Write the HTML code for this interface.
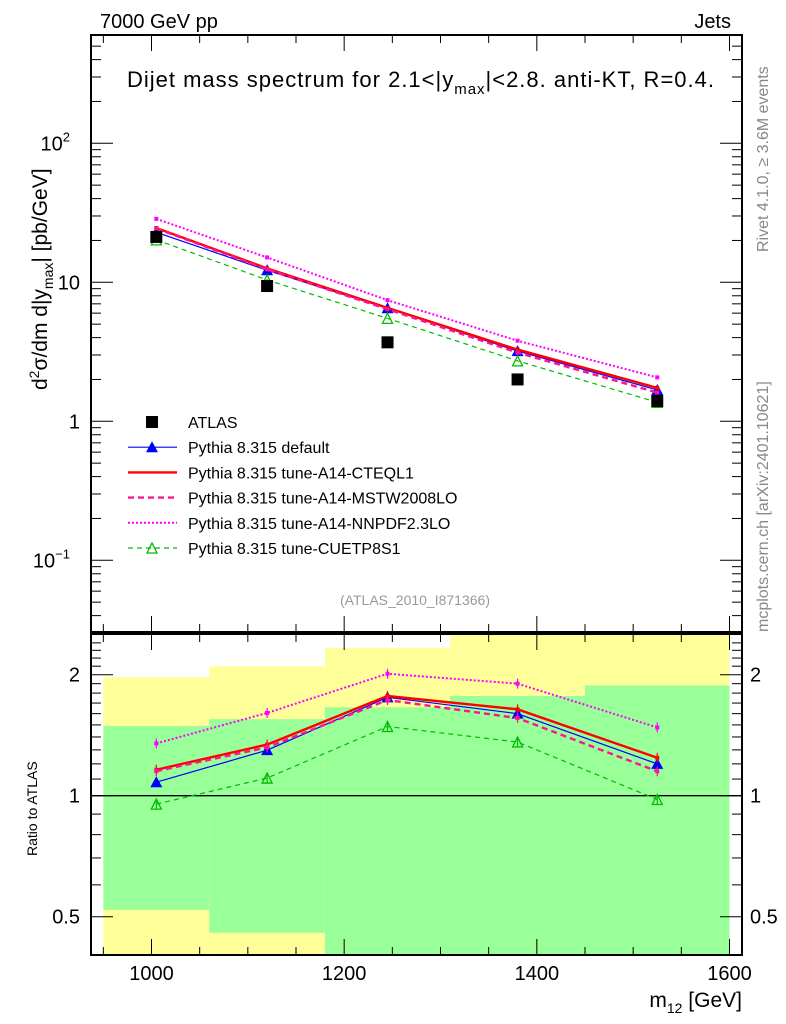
<!DOCTYPE html>
<html><head><meta charset="utf-8"><style>
html,body{margin:0;padding:0;background:#fff}
svg{display:block;font-family:"Liberation Sans",sans-serif}
</style></head><body>
<svg id="chart" width="786" height="1024" viewBox="0 0 786 1024" xmlns="http://www.w3.org/2000/svg">
<g id="bands"></g>
<g id="marks"></g>
<g id="axes"></g>
<text x="100" y="28" font-size="20">7000 GeV pp</text>
<text x="731" y="28" font-size="20" text-anchor="end">Jets</text>
<text x="127" y="87" font-size="22" textLength="587">Dijet mass spectrum for 2.1&lt;|y<tspan font-size="15" dy="7">max</tspan><tspan dy="-7">|&lt;2.8.  anti-KT, R=0.4.</tspan></text>
<text transform="translate(768,252) rotate(-90)" font-size="16" fill="#888">Rivet 4.1.0, ≥ 3.6M events</text>
<text transform="translate(768,632) rotate(-90)" font-size="16" fill="#888">mcplots.cern.ch [arXiv:2401.10621]</text>
<text x="415" y="605" font-size="14" fill="#999" text-anchor="middle">(ATLAS_2010_I871366)</text>
<text transform="translate(47,390) rotate(-90)" font-size="21">d<tspan font-size="14" dy="-8">2</tspan><tspan dy="8">σ/dm d|y</tspan><tspan font-size="14" dy="6">max</tspan><tspan dy="-6">| [pb/GeV]</tspan></text>
<text transform="translate(37,856) rotate(-90)" font-size="14">Ratio to ATLAS</text>
<text x="742" y="1007" font-size="21" text-anchor="end">m<tspan font-size="14" dy="6">12</tspan><tspan dy="-6"> [GeV]</tspan></text>
<g id="legend"></g>
</svg>
<script>
const NS="http://www.w3.org/2000/svg";
const binEdges=[950,1060,1180,1310,1450,1600];
const xCenters=[1005,1120,1245,1380,1525];
const atlas=[21.2,9.4,3.7,2.0,1.4];
const pyDefault=[22.9,12.2,6.5,3.2,1.68];
const pyCTEQ=[24.6,12.6,6.55,3.28,1.74];
const pyMSTW=[24.4,12.4,6.4,3.12,1.61];
const pyNNPDF=[28.6,15.1,7.44,3.8,2.07];
const pyCUETP=[20.2,10.4,5.5,2.72,1.37];
const bandYellowHi=[1.97,2.10,2.33,2.8,2.8];
const bandYellowLo=[0.3,0.3,0.3,0.3,0.3];
const bandGreenHi=[1.49,1.55,1.66,1.77,1.88];
const bandGreenLo=[0.52,0.456,0.35,0.35,0.35];
const mainTickLabels=[[100,"10","2"],[10,"10",""],[1,"1",""],[0.1,"10","−1"]];
const ratioTickLabels=[2,1,0.5];
const xTickLabels=[1000,1200,1400,1600];

const L=91,R=742,T1=35,B1=632,T2=634,B2=955;
function X(v){return 151.5+(v-1000)*578/600;}
function Y(v){return 143.3+(2-Math.log10(v))*139;}
function YR(v){return 795.7-Math.log2(v)*121;}
function el(tag,attrs,parent){const e=document.createElementNS(NS,tag);for(const k in attrs)e.setAttribute(k,attrs[k]);parent.appendChild(e);return e;}
const bands=document.getElementById('bands'),marks=document.getElementById('marks'),axes=document.getElementById('axes'),legend=document.getElementById('legend');

for(let i=0;i<xCenters.length;i++){
  const x0=X(binEdges[i]),x1=X(binEdges[i+1]);
  const yh=Math.max(T2,YR(bandYellowHi[i])),yl=Math.min(B2,YR(bandYellowLo[i]));
  const r=el('rect',{x:x0,y:yh,width:x1-x0,height:yl-yh,fill:'#ffff99'},bands);
  
  
  const gh=Math.max(T2,YR(bandGreenHi[i])),gl=Math.min(B2,YR(bandGreenLo[i]));
  const g=el('rect',{x:x0,y:gh,width:x1-x0,height:gl-gh,fill:'#99ff99'},bands);
  
  
}
const ref=el('line',{x1:L,x2:R,y1:YR(1),y2:YR(1),stroke:'#000','stroke-width':1.3},bands);



const series=[
 {name:'pythia-default',vals:pyDefault,color:'#0000ff',w:1.2,dash:'',marker:'tri'},
 {name:'pythia-a14-cteql1',vals:pyCTEQ,color:'#ff0000',w:2.4,dash:'',marker:'none'},
 {name:'pythia-a14-mstw2008lo',vals:pyMSTW,color:'#ff1493',w:2.4,dash:'6,4',marker:'none'},
 {name:'pythia-a14-nnpdf23lo',vals:pyNNPDF,color:'#ff00ff',w:2,dash:'2,2',marker:'none'},
 {name:'pythia-cuetp8s1',vals:pyCUETP,color:'#00bb00',w:1.2,dash:'5,4',marker:'open'}
];
function marker(type,x,y,color,parent){
  if(type==='tri'){const p=el('polygon',{points:`${x-6},${y+5} ${x+6},${y+5} ${x},${y-6}`,fill:color},parent);}
  else if(type==='open'){const p=el('polygon',{points:`${x-5},${y+5} ${x+5},${y+5} ${x},${y-5}`,fill:'none',stroke:color,'stroke-width':1.3},parent);}
  else {const p=el('rect',{x:x-2,y:y-2,width:4,height:4,fill:color},parent);}
}
series.forEach(s=>{
  const pm=xCenters.map((x,i)=>X(x)+','+Y(s.vals[i])).join(' ');
  const l=el('polyline',{points:pm,fill:'none',stroke:s.color,'stroke-width':s.w,'stroke-dasharray':s.dash},marks);
  
  
  const pr=xCenters.map((x,i)=>X(x)+','+YR(s.vals[i]/atlas[i])).join(' ');
  const l2=el('polyline',{points:pr,fill:'none',stroke:s.color,'stroke-width':s.w,'stroke-dasharray':s.dash},marks);
  
  
  xCenters.forEach((x,i)=>{
    marker(s.marker,X(x),Y(s.vals[i]),s.color,marks);
    const yr=YR(s.vals[i]/atlas[i]);
    el('line',{x1:X(x),x2:X(x),y1:yr-5,y2:yr+5,stroke:s.color,'stroke-width':1.2},marks);
    marker(s.marker,X(x),yr,s.color,marks);
  });
});
xCenters.forEach((x,i)=>{
  const r=el('rect',{x:X(x)-6,y:Y(atlas[i])-6,width:12,height:12,fill:'#000'},marks);
  
  
});

[[T1,B1],[T2,B2]].forEach(([t,b])=>{
  const f=el('rect',{x:L,y:t,width:R-L,height:b-t,fill:'none',stroke:'#000','stroke-width':2},axes);
  
  
  for(let v=950;v<=1600;v+=50){
    const maj=v%200===0,len=maj?16:8,x=X(v);
    el('line',{x1:x,x2:x,y1:b,y2:b-len,stroke:'#000','stroke-width':1},axes);
    el('line',{x1:x,x2:x,y1:t,y2:t+len,stroke:'#000','stroke-width':1},axes);
  }
});
for(let d=-2;d<=2;d++){for(let m=1;m<=9;m++){
  const v=m*Math.pow(10,d),y=Y(v);if(y<T1||y>B1)continue;
  const len=m===1?22:10;
  el('line',{x1:L,x2:L+len,y1:y,y2:y,stroke:'#000'},axes);
  el('line',{x1:R,x2:R-len,y1:y,y2:y,stroke:'#000'},axes);
}}
mainTickLabels.forEach(([v,b,e])=>{
  const t=el('text',{x:e?70:80,y:Y(v)+7,'font-size':20,'text-anchor':'end'},axes);
  t.textContent=b;
  
  
  if(e){const s=el('tspan',{'font-size':13,dy:-9},t);s.textContent=e;}
});
for(let v=0.4;v<=2.5;v+=0.1){
  const y=YR(v);if(y<T2||y>B2)continue;
  const maj=Math.abs(v-0.5)<0.01||Math.abs(v-1)<0.01||Math.abs(v-2)<0.01,len=maj?22:10;
  el('line',{x1:L,x2:L+len,y1:y,y2:y,stroke:'#000'},axes);
  el('line',{x1:R,x2:R-len,y1:y,y2:y,stroke:'#000'},axes);
}
ratioTickLabels.forEach(v=>{
  const t=el('text',{x:80,y:YR(v)+7,'font-size':20,'text-anchor':'end'},axes);t.textContent=v;
  
  
  const t2=el('text',{x:750,y:YR(v)+7,'font-size':20},axes);t2.textContent=v;
  
  
});
xTickLabels.forEach(v=>{
  const t=el('text',{x:X(v),y:980,'font-size':20,'text-anchor':'middle'},axes);t.textContent=v;
  
  
});
const legendLabels=['ATLAS','Pythia 8.315 default','Pythia 8.315 tune-A14-CTEQL1','Pythia 8.315 tune-A14-MSTW2008LO','Pythia 8.315 tune-A14-NNPDF2.3LO','Pythia 8.315 tune-CUETP8S1'];
legendLabels.forEach((lab,i)=>{
  const y=422+i*25.2;
  if(i===0){el('rect',{x:146,y:y-6,width:12,height:12,fill:'#000'},legend);}
  else{const s=series[i-1];
    el('line',{x1:128,x2:177,y1:y,y2:y,stroke:s.color,'stroke-width':s.w,'stroke-dasharray':s.dash},legend);
    if(s.marker!=='none')marker(s.marker,152,y,s.color,legend);}
  const t=el('text',{x:188,y:y+6,'font-size':16},legend);t.textContent=lab;
  
  
});
</script>
</body></html>
